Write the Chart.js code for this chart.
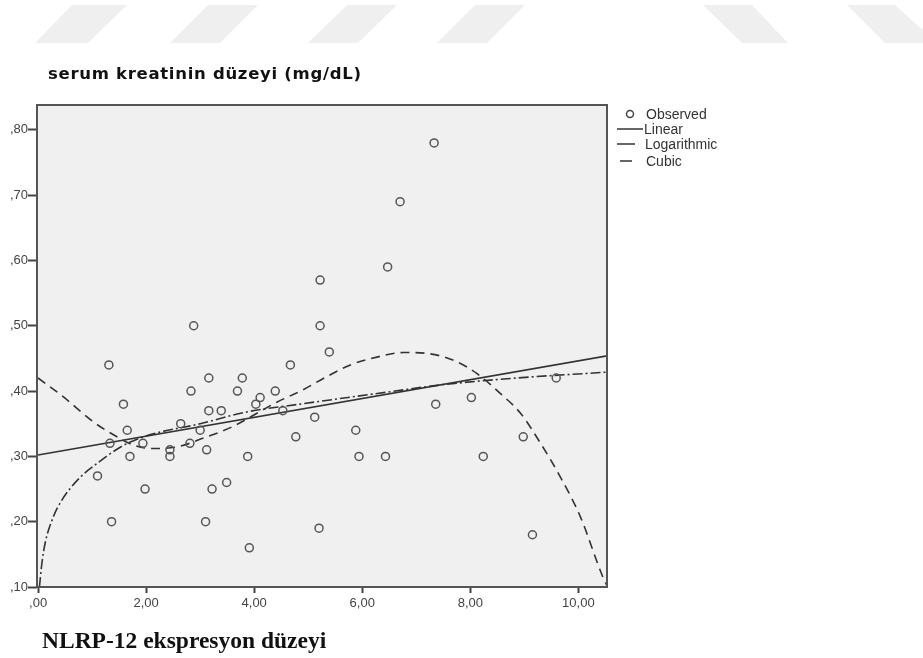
<!DOCTYPE html>
<html>
<head>
<meta charset="utf-8">
<script src="https://cdn.jsdelivr.net/npm/chart.js@4/dist/chart.umd.min.js"></script>
<style>
  html, body { margin: 0; padding: 0; background: #fff; }
  #page { position: relative; width: 923px; height: 658px; overflow: hidden; }
  .mark { position: absolute; top: 5px; height: 38px; background: #efefef; }
  #chart { position: absolute; left: 0; top: 0; }
  .title { position: absolute; font-weight: bold; color: #111; white-space: nowrap; line-height: 1; }
  #ytitle { left: 48px; top: 66px; font-family: 'DejaVu Sans', sans-serif; font-size: 16.5px; letter-spacing: 0.7px; }
  #xtitle { left: 42px; top: 629px; font-family: 'Liberation Serif', serif; font-size: 23.5px; }
</style>
</head>
<body>
<div id="page">
  <div class="mark" style="left:35px;width:92px;clip-path:polygon(37px 0,92px 0,53px 100%,0 100%)"></div>
  <div class="mark" style="left:170px;width:88px;clip-path:polygon(38px 0,88px 0,50px 100%,0 100%)"></div>
  <div class="mark" style="left:308px;width:89px;clip-path:polygon(39px 0,89px 0,50px 100%,0 100%)"></div>
  <div class="mark" style="left:437px;width:88px;clip-path:polygon(38px 0,88px 0,50px 100%,0 100%)"></div>
  <div class="mark" style="left:703px;width:85px;clip-path:polygon(0 0,49px 0,85px 100%,39px 100%)"></div>
  <div class="mark" style="left:847px;width:90px;clip-path:polygon(0 0,48px 0,90px 100%,38px 100%)"></div>
  <canvas id="chart" width="923" height="658"></canvas>
  <div class="title" id="ytitle">serum kreatinin düzeyi (mg/dL)</div>
  <div class="title" id="xtitle">NLRP-12 ekspresyon düzeyi</div>
</div>
<script>
'use strict';

var obsX = [1.10, 1.31, 1.33, 1.36, 1.58, 1.65, 1.70, 1.94, 1.98, 2.44,
            2.44, 2.64, 2.83, 2.81, 2.88, 3.00, 3.12, 3.16, 3.16, 3.39,
            3.22, 3.10, 3.49, 3.69, 3.78, 3.88, 3.91, 4.03, 4.11, 4.39,
            4.53, 4.67, 4.77, 5.12, 5.20, 5.22, 5.22, 5.39, 5.88, 5.94,
            6.43, 6.47, 6.70, 7.33, 7.36, 8.02, 8.24, 8.98, 9.15, 9.59];
var obsY = [0.27, 0.44, 0.32, 0.20, 0.38, 0.34, 0.30, 0.32, 0.25, 0.31,
            0.30, 0.35, 0.40, 0.32, 0.50, 0.34, 0.31, 0.42, 0.37, 0.37,
            0.25, 0.20, 0.26, 0.40, 0.42, 0.30, 0.16, 0.38, 0.39, 0.40,
            0.37, 0.44, 0.33, 0.36, 0.19, 0.57, 0.50, 0.46, 0.34, 0.30,
            0.30, 0.59, 0.69, 0.78, 0.38, 0.39, 0.30, 0.33, 0.18, 0.42];

// fitted curves
var linearX = [0, 10.54];
var linearY = [0.302, 0.454];
var logX = [0.025, 0.07, 0.13, 0.28, 0.44, 0.78, 1.09, 1.52, 1.95, 3.0, 3.86, 4.85, 6.52, 7.51, 8.86, 10.54];
var logY = [0.10, 0.136, 0.167, 0.207, 0.233, 0.268, 0.289, 0.314, 0.33, 0.35, 0.368, 0.38, 0.399, 0.41, 0.42, 0.429];
var cubicX = [0, 0.47, 1.02, 1.46, 1.77, 2.13, 2.6, 3.06, 3.56, 4.42, 4.88, 5.34, 5.78, 6.27, 6.77, 7.26,
              7.75, 8.12, 8.56, 8.93, 9.30, 9.67, 10.04, 10.44, 10.54];
var cubicY = [0.42, 0.391, 0.353, 0.33, 0.317, 0.312, 0.315, 0.328, 0.344, 0.383, 0.401, 0.422, 0.44, 0.452, 0.459, 0.457,
              0.445, 0.427, 0.396, 0.366, 0.32, 0.268, 0.207, 0.118, 0.10];

var xTicks = [0, 2, 4, 6, 8, 10];
var yTicks = [0.1, 0.2, 0.3, 0.4, 0.5, 0.6, 0.7, 0.8];

var lineColor = '#333333';
var tickFont = { family: "'Liberation Sans', Arial, sans-serif", size: 13 };

function pairs(xs, ys) {
  var out = [];
  for (var i = 0; i < xs.length; i++) {
    out.push({ x: xs[i], y: ys[i] });
  }
  return out;
}

// turkish style numbers: ",80" and "2,00"
function fmt(v) {
  var s = v.toFixed(2).replace('.', ',');
  if (s.indexOf('0,') === 0) {
    s = s.substring(1);
  }
  return s;
}

var plotFrame = {
  id: 'plotFrame',
  beforeDraw: function(chart) {
    var a = chart.chartArea;
    var ctx = chart.ctx;
    ctx.save();
    ctx.fillStyle = '#f0f0f0';
    ctx.fillRect(a.left, a.top, a.right - a.left, a.bottom - a.top);
    ctx.restore();
  },
  afterDraw: function(chart) {
    var a = chart.chartArea;
    var ctx = chart.ctx;
    ctx.save();
    ctx.strokeStyle = '#555555';
    ctx.lineWidth = 2;
    ctx.strokeRect(a.left, a.top, a.right - a.left, a.bottom - a.top);

    // legend, spss style
    var ds = chart.data.datasets;
    ctx.font = "14px 'Liberation Sans', Arial, sans-serif";
    ctx.fillStyle = '#333333';
    ctx.textBaseline = 'middle';
    ctx.lineWidth = 1.5;
    ctx.strokeStyle = '#444444';
    ctx.beginPath();
    ctx.arc(630, 114, 3.5, 0, 2 * Math.PI);
    ctx.stroke();
    ctx.fillText(ds[0].label, 646, 115);
    ctx.strokeStyle = lineColor;
    var rows = [[617, 643, 129, 644], [617, 635, 144, 645], [620, 632, 161, 646]];
    for (var i = 0; i < rows.length; i++) {
      ctx.beginPath();
      ctx.moveTo(rows[i][0], rows[i][2]);
      ctx.lineTo(rows[i][1], rows[i][2]);
      ctx.stroke();
      ctx.fillText(ds[i + 1].label, rows[i][3], rows[i][2] + 1);
    }
    ctx.restore();
  }
};

var ctx = document.getElementById('chart').getContext('2d');
var chart = new Chart(ctx, {
  type: 'scatter',
  data: {
    datasets: [{
      label: 'Observed',
      data: pairs(obsX, obsY),
      pointRadius: 4,
      pointBorderWidth: 1.5,
      borderColor: '#555555',
      backgroundColor: 'rgba(0,0,0,0)'
    }, {
      label: 'Linear',
      data: pairs(linearX, linearY),
      showLine: true,
      pointRadius: 0,
      borderColor: lineColor,
      borderWidth: 1.6
    }, {
      label: 'Logarithmic',
      data: pairs(logX, logY),
      showLine: true,
      pointRadius: 0,
      cubicInterpolationMode: 'monotone',
      borderColor: lineColor,
      borderWidth: 1.6,
      borderDash: [10, 3, 2, 3]
    }, {
      label: 'Cubic',
      data: pairs(cubicX, cubicY),
      showLine: true,
      pointRadius: 0,
      cubicInterpolationMode: 'monotone',
      borderColor: lineColor,
      borderWidth: 1.6,
      borderDash: [9, 6]
    }]
  },
  options: {
    responsive: false,
    animation: false,
    layout: { padding: { top: 105, right: 316, bottom: 0, left: 0 } },
    plugins: {
      legend: { display: false },
      tooltip: { enabled: false }
    },
    scales: {
      x: {
        type: 'linear',
        min: -0.02,
        max: 10.53,
        afterFit: function(scale) { scale.height = 71; },
        afterBuildTicks: function(scale) {
          scale.ticks = xTicks.map(function(v) { return { value: v }; });
        },
        grid: { drawOnChartArea: false, tickLength: 6, tickColor: '#444444', tickWidth: 2 },
        border: { display: false },
        ticks: { color: '#444444', font: tickFont, padding: 3, maxRotation: 0,
          callback: function(v) { return fmt(v); } }
      },
      y: {
        type: 'linear',
        min: 0.1,
        max: 0.838,
        afterFit: function(scale) { scale.width = 37; },
        afterBuildTicks: function(scale) {
          scale.ticks = yTicks.map(function(v) { return { value: v }; });
        },
        grid: { drawOnChartArea: false, tickLength: 9, tickColor: '#444444', tickWidth: 2 },
        border: { display: false },
        ticks: { color: '#444444', font: tickFont, padding: 0,
          callback: function(v) { return fmt(v); } }
      }
    }
  },
  plugins: [plotFrame]
});
</script>
</body>
</html>
